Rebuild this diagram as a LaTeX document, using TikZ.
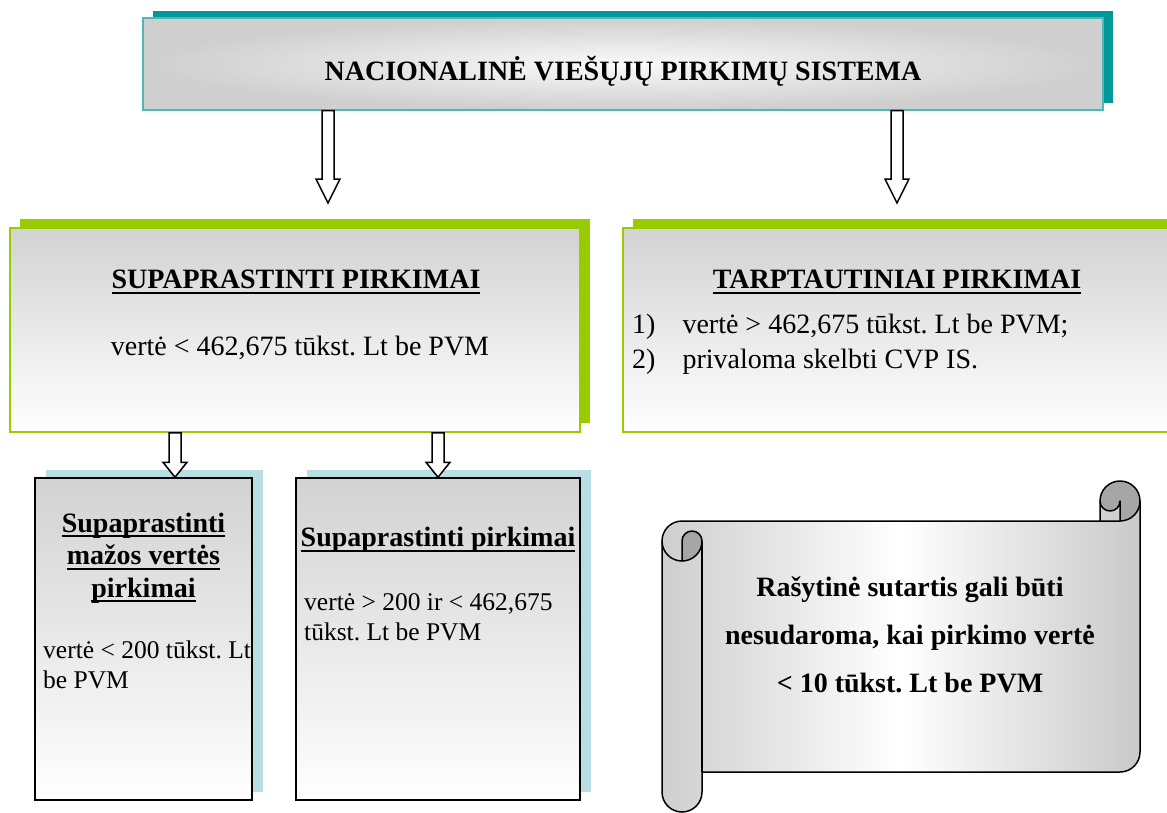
\documentclass[tikz,border=0pt]{standalone}
\usepackage{fontspec}
\setmainfont{Liberation Serif}
\frenchspacing
\usetikzlibrary{shadows,calc,positioning}

\definecolor{tealshadow}{RGB}{0,153,153}
\definecolor{limeshadow}{RGB}{153,204,0}
\definecolor{blueshadow}{RGB}{183,222,226}
\definecolor{curlgray}{RGB}{166,166,166}

\newcommand{\undl}[1]{\setbox0\hbox{#1}\rlap{\rule[-5pt]{\wd0}{2pt}}\box0}
\newcommand{\hollowarrow}[5]{%
  \draw[hollow] let \p1=(#1), \p2=(#2) in
    (\x1-#3,\y1) -- (\x1-#3,\y2+#5) -- (\x1-#4,\y2+#5) -- (\x1,\y2)
    -- (\x1+#4,\y2+#5) -- (\x1+#3,\y2+#5) -- (\x1+#3,\y1) -- cycle;}

\begin{document}
\begin{tikzpicture}[x=1pt, y=-1pt,
        topbox/.style={rectangle, draw=tealshadow!70, line width=1.2pt, inner color=gray!4, outer color=gray!38, minimum width=960pt, minimum height=92pt, drop shadow={fill=tealshadow, opacity=1, shadow xshift=10pt, shadow yshift=7pt}},
        midbox/.style={rectangle, draw=limeshadow, line width=1.5pt, top color=gray!35, bottom color=white, minimum height=204pt, drop shadow={fill=limeshadow, opacity=1, shadow xshift=10pt, shadow yshift=9pt}},
        lowbox/.style={rectangle, draw=black, line width=1.5pt, top color=gray!35, bottom color=white, minimum height=322pt, drop shadow={fill=blueshadow, opacity=1, shadow xshift=11pt, shadow yshift=8pt}},
        hollow/.style={draw=black, fill=white, line width=1.5pt, line join=miter},
        head/.style={font=\fontsize{28}{32.5}\selectfont\bfseries, align=center, inner sep=0pt},
        body/.style={font=\fontsize{28}{35}\selectfont, align=left, inner sep=0pt},
        small/.style={font=\fontsize{25.5}{30}\selectfont, align=left, inner sep=0pt},
        scrollline/.style={draw=black, line width=1.5pt, line join=round}
    ]
    \useasboundingbox (0,0) rectangle (1167,812);

    % boxes
    \node[topbox] (nvps) at (623,64) {};
    \node[midbox, minimum width=570pt] (supa) at (295,330) {};
    \node[midbox, minimum width=552pt] (tarp) at (899,330) {};
    \node[lowbox, minimum width=217pt] (smv) at (143.5,639) {};
    \node[lowbox, minimum width=284pt] (sp) at (438,639) {};

    % texts
    \node[head] (nvpst) at (623,71) {NACIONALINĖ VIEŠŲJŲ PIRKIMŲ SISTEMA};
    \node[head] (supat) at (296,282) {\undl{SUPAPRASTINTI PIRKIMAI}};
    \node[body] (supav) at (300,348) {vertė < 462,675 tūkst. Lt be PVM};
    \node[head] (tarpt) at (897,282) {\undl{TARPTAUTINIAI PIRKIMAI}};
    \node[body, anchor=west] (tarpv) at (632,344) {%
        \begin{tabular}{@{}l@{\hspace{27pt}}l@{}}
        1) & vertė > 462,675 tūkst. Lt be PVM;\\
        2) & privaloma skelbti CVP IS.
        \end{tabular}};
    \node[head] (smvt) at (143.5,558) {\undl{Supaprastinti}\\\undl{mažos vertės}\\\undl{pirkimai}};
    \node[small, anchor=west] (smvv) at (43,665) {vertė < 200 tūkst. Lt\\be PVM};
    \node[head] (spt) at (438,540) {\undl{Supaprastinti pirkimai}};
    \node[small, anchor=west] (spv) at (304,617) {vertė > 200 ir < 462,675\\tūkst. Lt be PVM};

    % arrows
    \coordinate (tip1) at (328,203);
    \coordinate (tip2) at (897,203);
    \coordinate (tipA) at ([xshift=31.5pt]smv.north);
    \hollowarrow{nvps.south -| tip1}{tip1}{6pt}{12pt}{24pt}
    \hollowarrow{nvps.south -| tip2}{tip2}{6pt}{12pt}{24pt}
    \hollowarrow{supa.south -| tipA}{tipA}{6pt}{12pt}{15pt}
    \hollowarrow{supa.south -| sp.north}{sp.north}{6pt}{12pt}{15pt}

    % scroll
    \begin{scope}[shift={(662,481)}]
        \shade[left color=gray!38, right color=gray!42, middle color=white]
            (478,20) arc[start angle=0, delta angle=90, radius=20] -- (458,20)
            arc[start angle=0, delta angle=180, radius=10] -- (438,40) -- (20,40)
            arc[start angle=270, delta angle=-90, radius=20] -- (0,311)
            arc[start angle=180, delta angle=-180, radius=20] -- (40,291) -- (458,291)
            arc[start angle=90, delta angle=-90, radius=20] -- cycle;
        \fill[curlgray] (20,80) arc[start angle=90, delta angle=-90, radius=20]
            arc[start angle=0, delta angle=-180, radius=10] -- cycle;
        \fill[curlgray] (458,40) arc[start angle=90, delta angle=-270, radius=20]
            arc[start angle=180, delta angle=-180, radius=10] -- cycle;
        \draw[scrollline] (0,60) arc[start angle=180, delta angle=90, radius=20] -- (438,40) -- (438,20)
            arc[start angle=180, delta angle=180, radius=20] -- (478,271)
            arc[start angle=0, delta angle=90, radius=20] -- (40,291) -- (40,311)
            arc[start angle=0, delta angle=180, radius=20] -- cycle;
        \draw[scrollline] (438,40) -- (458,40) arc[start angle=90, delta angle=-90, radius=20];
        \draw[scrollline] (458,40) -- (458,20) arc[start angle=0, delta angle=180, radius=10];
        \draw[scrollline] (20,80) -- (20,60) arc[start angle=180, delta angle=180, radius=10]
            arc[start angle=0, delta angle=180, radius=20];
        \draw[scrollline] (40,60) -- (40,291);
    \end{scope}
    \node[head, font=\fontsize{28}{48}\selectfont\bfseries] (rasyt) at (910,635) {Rašytinė sutartis gali būti\\nesudaroma, kai pirkimo vertė\\< 10 tūkst. Lt be PVM};

\end{tikzpicture}
\end{document}
